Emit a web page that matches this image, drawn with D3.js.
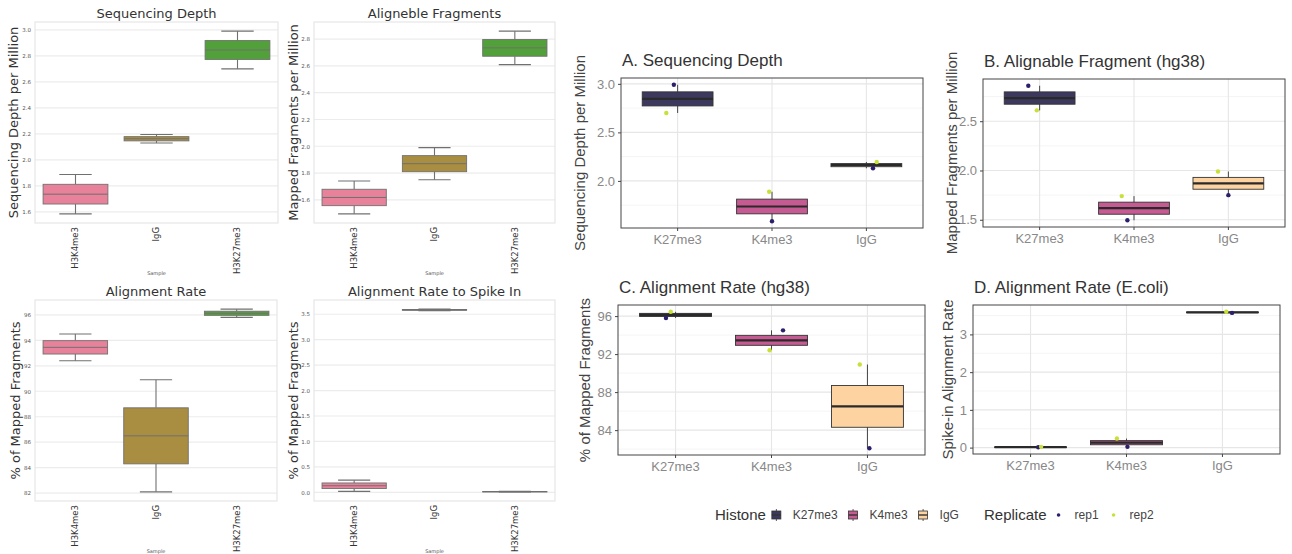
<!DOCTYPE html>
<html>
<head>
  <script src="https://d3js.org/d3.v7.min.js"></script>
  <style>
    body { margin: 0; background: #fff; }
  </style>
</head>
<body>
<svg id="chart" width="1292" height="554"></svg>
<script>
  // categories
  const histones = ["K27me3", "K4me3", "IgG"];
  const samples = ["H3K4me3", "IgG", "H3K27me3"];
  const replicates = ["rep1", "rep2"];

  // values per histone (order of histones), one array per replicate
  const depthRep1 = [2.99, 1.585, 2.13];
  const depthRep2 = [2.70, 1.888, 2.195];
  const fragRep1 = [2.86, 1.495, 1.75];
  const fragRep2 = [2.61, 1.74, 1.99];
  const rateRep1 = [95.8, 94.5, 82.1];
  const rateRep2 = [96.45, 92.4, 90.9];
  const spikeRep1 = [0.01, 0.02, 3.57];
  const spikeRep2 = [0.02, 0.24, 3.60];

  // horizontal jitter of the points in the ggplot panels (category units)
  const jitterA = [[-0.04, 0.0, 0.07], [-0.12, -0.03, 0.11]];
  const jitterB = [[-0.12, -0.07, 0.0], [-0.03, -0.13, -0.11]];
  const jitterC = [[-0.10, 0.12, 0.02], [-0.05, -0.02, -0.08]];
  const jitterD = [[0.08, 0.01, 0.10], [0.11, -0.10, 0.04]];

  // tick labels
  const depthTicksLeft = [1.6, 1.8, 2.0, 2.2, 2.4, 2.6, 2.8, 3.0];
  const fragTicksLeft = [1.6, 1.8, 2.0, 2.2, 2.4, 2.6, 2.8];
  const rateTicksLeft = [82, 84, 86, 88, 90, 92, 94, 96];
  const spikeTicksLeft = [0.0, 0.5, 1.0, 1.5, 2.0, 2.5, 3.0, 3.5];
  const depthTicks = [2.0, 2.5, 3.0];
  const fragTicks = [1.5, 2.0, 2.5];
  const rateTicks = [84, 88, 92, 96];
  const spikeTicks = [0, 1, 2, 3];

  const sampleColors = ["#e8829a", "#a98d40", "#52a039"];
  const histoneColors = ["#3d395e", "#c65a92", "#fdd3a1"];
  const replicateColors = ["#2e1f6c", "#c9e03a"];

  const svg = d3.select('svg#chart');

  function boxStats(vals) {
    const s = vals.slice().sort(d3.ascending);
    return {
      min: s[0], max: s[s.length - 1],
      q1: d3.quantile(s, 0.25), med: d3.quantile(s, 0.5), q3: d3.quantile(s, 0.75)
    };
  }

  function paddedDomain(vals) {
    const ext = d3.extent(vals);
    const pad = (ext[1] - ext[0]) * 0.05;
    return [ext[0] - pad, ext[1] + pad];
  }

  //seaborn style panels on the left
  function leftPanel(o) {
    const g = svg.append('g');
    const x = d3.scaleBand().domain(samples).range([o.x0, o.x1]);
    const y = d3.scaleLinear().domain(paddedDomain(o.rep1.concat(o.rep2))).range([o.y1, o.y0]);

    g.selectAll('.grid').data(o.ticks)
      .join('line')
      .attr('x1', o.x0).attr('x2', o.x1)
      .attr('y1', d => y(d)).attr('y2', d => y(d))
      .attr('stroke', '#ececec').attr('stroke-width', 1.2);
    g.append('rect')
      .attr('x', o.x0).attr('y', o.y0)
      .attr('width', o.x1 - o.x0).attr('height', o.y1 - o.y0)
      .attr('fill', 'none').attr('stroke', '#e6e6e6').attr('stroke-width', 1.2);

    let leftAxis = g.append('g')
      .attr('transform', `translate(${o.x0},0)`)
      .call(d3.axisLeft(y).tickValues(o.ticks).tickFormat(d3.format(o.fmt)).tickSize(0).tickPadding(4));
    leftAxis.select('.domain').remove();
    leftAxis.selectAll('text').style('font', '5.5px "DejaVu Sans"').attr('fill', '#555');

    let bottomAxis = g.append('g')
      .attr('transform', `translate(0,${o.y1})`)
      .call(d3.axisBottom(x).tickSize(0));
    bottomAxis.select('.domain').remove();
    bottomAxis.selectAll('text')
      .attr('transform', 'rotate(-90)')
      .attr('x', -4).attr('y', 0).attr('dy', '0.35em')
      .style('text-anchor', 'end')
      .style('font', '8.5px "DejaVu Sans"').attr('fill', '#333');

    const boxW = x.bandwidth() * 0.8;
    samples.forEach(function (s, i) {
      const h = histones.indexOf(s.replace(/^H3/, ''));
      const st = boxStats([o.rep1[h], o.rep2[h]]);
      const cx = x(s) + x.bandwidth() / 2;
      const line = '#707070';
      g.append('line').attr('x1', cx).attr('x2', cx).attr('y1', y(st.max)).attr('y2', y(st.q3))
        .attr('stroke', line).attr('stroke-width', 1.1);
      g.append('line').attr('x1', cx).attr('x2', cx).attr('y1', y(st.q1)).attr('y2', y(st.min))
        .attr('stroke', line).attr('stroke-width', 1.1);
      [st.min, st.max].forEach(v => {
        g.append('line').attr('x1', cx - boxW / 4).attr('x2', cx + boxW / 4)
          .attr('y1', y(v)).attr('y2', y(v)).attr('stroke', line).attr('stroke-width', 1.1);
      });
      g.append('rect')
        .attr('x', cx - boxW / 2).attr('width', boxW)
        .attr('y', y(st.q3)).attr('height', Math.max(y(st.q1) - y(st.q3), 0.5))
        .attr('fill', sampleColors[i]).attr('stroke', line).attr('stroke-width', 0.9);
      g.append('line').attr('x1', cx - boxW / 2).attr('x2', cx + boxW / 2)
        .attr('y1', y(st.med)).attr('y2', y(st.med)).attr('stroke', line).attr('stroke-width', 1);
    });

    g.append('text')
      .attr('x', (o.x0 + o.x1) / 2).attr('y', o.y0 - 4)
      .style('text-anchor', 'middle')
      .style('font', '13px "DejaVu Sans"').attr('fill', '#333')
      .text(o.title);
    g.append('text')
      .attr('transform', `translate(${o.ylx},${(o.y0 + o.y1) / 2}) rotate(-90)`)
      .attr('dy', '0.35em')
      .style('text-anchor', 'middle')
      .style('font', '13px "DejaVu Sans"').attr('fill', '#333')
      .text(o.ylabel);
    g.append('text')
      .attr('x', (o.x0 + o.x1) / 2).attr('y', o.sampleY)
      .style('text-anchor', 'middle')
      .style('font', '5px "DejaVu Sans"').attr('fill', '#555')
      .text('Sample');
  }

  //ggplot style panels on the right
  function rightPanel(o) {
    const g = svg.append('g');
    const x = d3.scaleBand().domain(histones).range([o.x0, o.x1]).paddingInner(0).paddingOuter(0.1);
    const y = d3.scaleLinear().domain(paddedDomain(o.rep1.concat(o.rep2))).range([o.y1, o.y0]);
    const bw = x.bandwidth();
    const cx = d => x(d) + bw / 2;

    const dom = y.domain();
    const step = o.ticks[1] - o.ticks[0];
    const minor = [];
    for (let v = o.ticks[0] - step / 2; v <= dom[1]; v += step) {
      if (v >= dom[0]) minor.push(v);
    }
    g.selectAll('.minor').data(minor)
      .join('line')
      .attr('x1', o.x0).attr('x2', o.x1)
      .attr('y1', d => y(d)).attr('y2', d => y(d))
      .attr('stroke', '#f3f3f3').attr('stroke-width', 0.8);
    g.selectAll('.hmajor').data(o.ticks)
      .join('line')
      .attr('x1', o.x0).attr('x2', o.x1)
      .attr('y1', d => y(d)).attr('y2', d => y(d))
      .attr('stroke', '#e6e6e6').attr('stroke-width', 1.1);
    g.selectAll('.vmajor').data(histones)
      .join('line')
      .attr('x1', d => cx(d)).attr('x2', d => cx(d))
      .attr('y1', o.y0).attr('y2', o.y1)
      .attr('stroke', '#e6e6e6').attr('stroke-width', 1.1);

    const boxW = bw * 0.75;
    histones.forEach(function (h, i) {
      const st = boxStats([o.rep1[i], o.rep2[i]]);
      const c = cx(h);
      g.append('line').attr('x1', c).attr('x2', c).attr('y1', y(st.max)).attr('y2', y(st.min))
        .attr('stroke', '#333').attr('stroke-width', 0.9);
      g.append('rect')
        .attr('x', c - boxW / 2).attr('width', boxW)
        .attr('y', y(st.q3)).attr('height', Math.max(y(st.q1) - y(st.q3), 0.5))
        .attr('fill', histoneColors[i]).attr('stroke', '#333').attr('stroke-width', 0.9);
      g.append('line').attr('x1', c - boxW / 2).attr('x2', c + boxW / 2)
        .attr('y1', y(st.med)).attr('y2', y(st.med))
        .attr('stroke', '#2a2a2a').attr('stroke-width', 2.2);
    });

    [o.rep1, o.rep2].forEach(function (vals, r) {
      g.selectAll('.pt' + r).data(histones)
        .join('circle')
        .attr('cx', (d, i) => cx(d) + o.jitter[r][i] * bw)
        .attr('cy', (d, i) => y(vals[i]))
        .attr('r', 2.2)
        .attr('fill', replicateColors[r]);
    });

    g.append('rect')
      .attr('x', o.x0).attr('y', o.y0)
      .attr('width', o.x1 - o.x0).attr('height', o.y1 - o.y0)
      .attr('fill', 'none').attr('stroke', '#444').attr('stroke-width', 1);

    let leftAxis = g.append('g')
      .attr('transform', `translate(${o.x0},0)`)
      .call(d3.axisLeft(y).tickValues(o.ticks).tickFormat(d3.format(o.fmt)).tickSize(3).tickPadding(3));
    leftAxis.select('.domain').remove();
    leftAxis.selectAll('line').attr('stroke', '#444');
    leftAxis.selectAll('text').style('font', '13px "Liberation Sans"').attr('fill', '#888');

    let bottomAxis = g.append('g')
      .attr('transform', `translate(0,${o.y1})`)
      .call(d3.axisBottom(x).tickSize(3).tickPadding(4));
    bottomAxis.select('.domain').remove();
    bottomAxis.selectAll('line').attr('stroke', '#444');
    bottomAxis.selectAll('text').style('font', '13px "Liberation Sans"').attr('fill', '#888');

    g.append('text')
      .attr('x', o.x0 + 1).attr('y', o.y0 - 12)
      .style('font', '17px "Liberation Sans"').attr('fill', '#333')
      .text(o.title);
    g.append('text')
      .attr('transform', `translate(${o.ylx},${(o.y0 + o.y1) / 2}) rotate(-90)`)
      .attr('dy', '0.35em')
      .style('text-anchor', 'middle')
      .style('font', '15px "Liberation Sans"').attr('fill', '#444')
      .text(o.ylabel);
  }

  leftPanel({ x0: 35, x1: 278, y0: 22, y1: 223, ylx: 13, sampleY: 275,
    title: 'Sequencing Depth', ylabel: 'Sequencing Depth per Million',
    rep1: depthRep1, rep2: depthRep2, ticks: depthTicksLeft, fmt: '.1f' });
  leftPanel({ x0: 314, x1: 555, y0: 22, y1: 223, ylx: 293, sampleY: 275,
    title: 'Aligneble Fragments', ylabel: 'Mapped Fragments per Million',
    rep1: fragRep1, rep2: fragRep2, ticks: fragTicksLeft, fmt: '.1f' });
  leftPanel({ x0: 35, x1: 277, y0: 300, y1: 501, ylx: 15, sampleY: 553,
    title: 'Alignment Rate', ylabel: '% of Mapped Fragments',
    rep1: rateRep1, rep2: rateRep2, ticks: rateTicksLeft, fmt: 'd' });
  leftPanel({ x0: 314, x1: 555, y0: 300, y1: 501, ylx: 293, sampleY: 553,
    title: 'Alignment Rate to Spike In', ylabel: '% of Mapped Fragments',
    rep1: spikeRep1, rep2: spikeRep2, ticks: spikeTicksLeft, fmt: '.1f' });

  rightPanel({ x0: 621, x1: 923, y0: 78, y1: 228, ylx: 580,
    title: 'A. Sequencing Depth', ylabel: 'Sequencing Depth per Million',
    rep1: depthRep1, rep2: depthRep2, jitter: jitterA, ticks: depthTicks, fmt: '.1f' });
  rightPanel({ x0: 983, x1: 1285, y0: 79, y1: 227, ylx: 952,
    title: 'B. Alignable Fragment (hg38)', ylabel: 'Mapped Fragments per Million',
    rep1: fragRep1, rep2: fragRep2, jitter: jitterB, ticks: fragTicks, fmt: '.1f' });
  rightPanel({ x0: 618, x1: 925, y0: 305, y1: 455, ylx: 585,
    title: 'C. Alignment Rate (hg38)', ylabel: '% of Mapped Fragments',
    rep1: rateRep1, rep2: rateRep2, jitter: jitterC, ticks: rateTicks, fmt: 'd' });
  rightPanel({ x0: 973, x1: 1280, y0: 305, y1: 454, ylx: 948,
    title: 'D. Alignment Rate (E.coli)', ylabel: 'Spike-in Alignment Rate',
    rep1: spikeRep1, rep2: spikeRep2, jitter: jitterD, ticks: spikeTicks, fmt: 'd' });

  //legend
  let legend = svg.append('g');
  let cursor = 715;
  const baseY = 520;
  let t = legend.append('text').attr('x', cursor).attr('y', baseY)
    .style('font', '15px "Liberation Sans"').attr('fill', '#333').text('Histone');
  cursor += t.node().getComputedTextLength() + 6;
  histones.forEach(function (h, i) {
    const k = legend.append('g').attr('transform', `translate(${cursor},${baseY - 9})`);
    k.append('line').attr('x1', 4.5).attr('x2', 4.5).attr('y1', -2).attr('y2', 10)
      .attr('stroke', '#333').attr('stroke-width', 0.8);
    k.append('rect').attr('x', 0).attr('y', 0).attr('width', 9).attr('height', 8)
      .attr('fill', histoneColors[i]).attr('stroke', '#333').attr('stroke-width', 0.8);
    k.append('line').attr('x1', 0).attr('x2', 9).attr('y1', 4).attr('y2', 4)
      .attr('stroke', '#333').attr('stroke-width', 1.4);
    let lt = legend.append('text').attr('x', cursor + 21).attr('y', baseY - 1)
      .style('font', '12px "Liberation Sans"').attr('fill', '#444').text(h);
    cursor += 21 + lt.node().getComputedTextLength() + 11;
  });
  cursor = 984;
  t = legend.append('text').attr('x', cursor).attr('y', baseY)
    .style('font', '15px "Liberation Sans"').attr('fill', '#333').text('Replicate');
  cursor += t.node().getComputedTextLength() + 12;
  replicates.forEach(function (r, i) {
    legend.append('circle').attr('cx', cursor).attr('cy', baseY - 5).attr('r', 1.8)
      .attr('fill', replicateColors[i]);
    let lt = legend.append('text').attr('x', cursor + 16).attr('y', baseY - 1)
      .style('font', '12px "Liberation Sans"').attr('fill', '#444').text(r);
    cursor += 16 + lt.node().getComputedTextLength() + 15;
  });
</script>
</body>
</html>
